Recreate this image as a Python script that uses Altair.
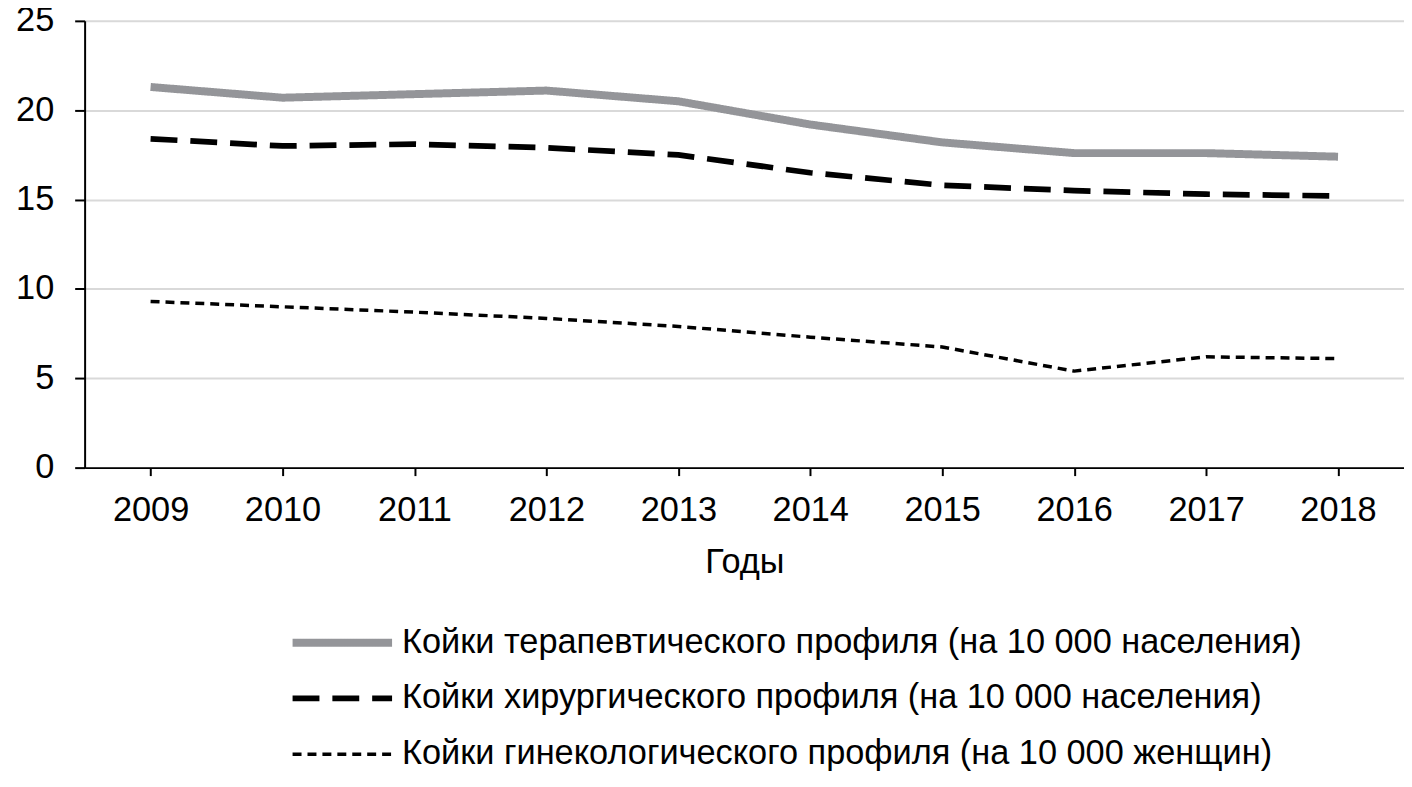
import altair as alt
import pandas as pd

years = ["2009", "2010", "2011", "2012", "2013", "2014", "2015", "2016", "2017", "2018"]
therapy = [21.3, 20.7, 20.9, 21.1, 20.5, 19.2, 18.2, 17.6, 17.6, 17.4]
surgery = [18.4, 18.0, 18.1, 17.9, 17.5, 16.5, 15.8, 15.5, 15.3, 15.2]
gyneco = [9.3, 9.0, 8.7, 8.35, 7.9, 7.3, 6.75, 5.4, 6.2, 6.1]

names = [
    "Койки терапевтического профиля (на 10 000 населения)",
    "Койки хирургического профиля (на 10 000 населения)",
    "Койки гинекологического профиля (на 10 000 женщин)",
]

rows = []
for name, vals in zip(names, [therapy, surgery, gyneco]):
    for y, v in zip(years, vals):
        rows.append({"year": y, "value": v, "series": name})
df = pd.DataFrame(rows)

FONT = "Liberation Sans"
FS = 34.5

chart = (
    alt.Chart(df)
    .mark_line(strokeCap="butt", strokeJoin="round")
    .encode(
        x=alt.X(
            "year:N",
            sort=years,
            title="Годы",
            scale=alt.Scale(paddingInner=0, paddingOuter=0.5),
            axis=alt.Axis(
                labelAngle=0,
                labelFontSize=FS,
                titleFontSize=FS,
                labelPadding=18,
                titlePadding=19,
                tickSize=8,
                tickWidth=2,
                tickColor="black",
                domainColor="black",
                domainWidth=2,
                labelColor="black",
                titleColor="black",
                titleFontWeight="normal",
                grid=False,
            ),
        ),
        y=alt.Y(
            "value:Q",
            title=None,
            scale=alt.Scale(domain=[0, 25]),
            axis=alt.Axis(
                values=[0, 5, 10, 15, 20, 25],
                labelFontSize=FS,
                labelPadding=21,
                tickSize=10,
                tickWidth=2,
                tickColor="black",
                domainColor="black",
                domainWidth=2,
                labelColor="black",
                gridColor="#d9d9d9",
                gridWidth=2,
                minExtent=70,
                maxExtent=70,
            ),
        ),
        color=alt.Color(
            "series:N",
            scale=alt.Scale(domain=names, range=["#949599", "black", "black"]),
            legend=alt.Legend(
                title=None,
                orient="none",
                legendX=205,
                legendY=605,
                symbolType="stroke",
                symbolSize=10000,
                labelFontSize=FS,
                labelColor="black",
                labelLimit=1300,
                labelOffset=6,
                clipHeight=40,
                rowPadding=16,
                symbolOffset=0,
                padding=0,
            ),
        ),
        strokeDash=alt.StrokeDash(
            "series:N",
            scale=alt.Scale(domain=names, range=[[1, 0], [27, 13], [9, 6]]),
            legend=None,
        ),
        strokeWidth=alt.StrokeWidth(
            "series:N",
            scale=alt.Scale(domain=names, range=[8, 3.5, 3.5]),
            legend=None,
        ),
    )
    .properties(
        width=1326,
        height=449,
        autosize=alt.AutoSizeParams(type="none"),
        padding={"left": 77, "top": 11, "right": 0, "bottom": 310},
    )
    .configure(font=FONT)
    .configure_view(stroke=None)
)

chart.save("out.html", embed_options={"renderer": "svg", "actions": False})
